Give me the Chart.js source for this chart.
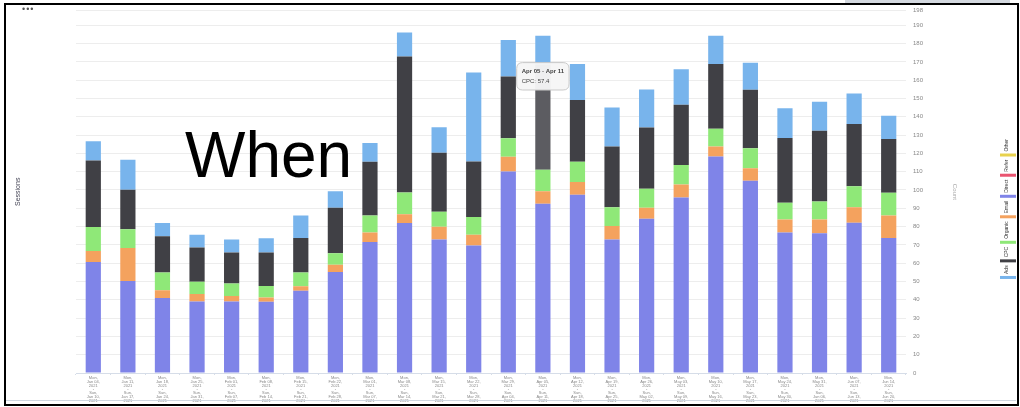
<!DOCTYPE html>
<html>
<head>
<meta charset="utf-8">
<script src="https://cdn.jsdelivr.net/npm/chart.js@4/dist/chart.umd.min.js"></script>
<style>
  html, body { margin: 0; padding: 0; background: #fff; }
  body { width: 1020px; height: 407px; position: relative; overflow: hidden; font-family: 'Liberation Sans', Arial, sans-serif; }
  #chart { position: absolute; left: 0; top: 0; }
  .frame { position: absolute; left: 4px; top: 3px; width: 1011px; height: 399px; border: 2px solid #000; pointer-events: none; }
  .topbar { position: absolute; left: 845px; top: 0; width: 165px; height: 3px; background: #d3d8df; }
  .baseline { position: absolute; left: 6px; top: 400px; width: 1010px; height: 1px; background: #cfd6e0; }
  .dots { position: absolute; left: 22px; top: 4px; font-size: 9px; color: #555; letter-spacing: 1px; }
  .overlay { position: absolute; left: 185px; top: 123px; font-size: 64px; line-height: 1; color: #000; font-family: 'Liberation Sans', Arial, sans-serif; }
</style>
</head>
<body>
<canvas id="chart" width="1020" height="407"></canvas>
<div class="topbar"></div>
<div class="baseline"></div>
<div class="frame"></div>
<div class="dots">&#8226;&#8226;&#8226;</div>
<div class="overlay">When</div>
<script>
// week ranges (start / end)
const weekStart = ['Jan 04', 'Jan 11', 'Jan 18', 'Jan 25', 'Feb 01', 'Feb 08', 'Feb 15', 'Feb 22',
  'Mar 01', 'Mar 08', 'Mar 15', 'Mar 22', 'Mar 29', 'Apr 05', 'Apr 12', 'Apr 19',
  'Apr 26', 'May 03', 'May 10', 'May 17', 'May 24', 'May 31', 'Jun 07', 'Jun 14'];
const weekEnd = ['Jan 10', 'Jan 17', 'Jan 24', 'Jan 31', 'Feb 07', 'Feb 14', 'Feb 21', 'Feb 28',
  'Mar 07', 'Mar 14', 'Mar 21', 'Mar 28', 'Apr 04', 'Apr 11', 'Apr 18', 'Apr 25',
  'May 02', 'May 09', 'May 16', 'May 23', 'May 30', 'Jun 06', 'Jun 13', 'Jun 20'];

const other = [0, 0, 0, 0, 0, 0, 0, 0, 0, 0, 0, 0, 0, 0, 0, 0, 0, 0, 0, 0, 0, 0, 0, 0];
const referral = [0, 0, 0, 0, 0, 0, 0, 0, 0, 0, 0, 0, 0, 0, 0, 0, 0, 0, 0, 0, 0, 0, 0, 0];
const direct = [60.7, 50.3, 41.0, 39.1, 39.1, 38.9, 44.9, 55.2, 71.6, 81.9, 72.9, 69.6,
  110.1, 92.5, 97.4, 73.0, 84.3, 95.9, 118.3, 105.0, 76.7, 76.3, 82.1, 73.7];
const email = [5.9, 18.0, 4.2, 4.0, 3.0, 2.4, 2.5, 4.0, 5.1, 4.9, 7.0, 6.0,
  8.0, 6.8, 6.9, 7.3, 6.0, 7.1, 5.4, 6.9, 7.2, 7.6, 8.5, 12.4];
const organic = [13.1, 10.2, 9.7, 6.7, 6.8, 6.3, 7.5, 6.2, 9.4, 11.8, 8.2, 9.6,
  10.1, 11.7, 11.1, 10.2, 10.4, 10.7, 9.7, 10.9, 9.1, 9.8, 11.5, 12.4];
const cpc = [36.4, 21.6, 19.8, 18.7, 17.0, 18.3, 18.8, 24.9, 29.3, 74.3, 32.2, 30.3,
  33.8, 57.4, 33.8, 33.2, 33.4, 32.9, 35.4, 32.0, 35.4, 38.6, 34.0, 29.4];
const ads = [10.5, 16.4, 7.2, 7.1, 7.1, 7.7, 12.4, 9.0, 10.3, 13.1, 13.9, 48.7,
  19.9, 15.8, 19.6, 21.4, 20.8, 19.4, 15.4, 14.7, 16.2, 15.9, 16.6, 12.7];

const labels = weekStart.map((s, i) => s + ' - ' + weekEnd[i]);

function ds(label, data, color, hover) {
  return {
    label,
    data,
    yAxisID: 'y',
    backgroundColor: color,
    hoverBackgroundColor: hover || color,
    borderWidth: 0,
    barPercentage: 0.55,
    categoryPercentage: 0.8,
  };
}

// rotated legend on the far right
const sideLegend = {
  id: 'sideLegend',
  afterDraw(chart) {
    const ctx = chart.ctx;
    let y = 139;
    ctx.save();
    ctx.font = '5px "Liberation Sans", Arial, sans-serif';
    chart.data.datasets.forEach((d) => {
      const w = ctx.measureText(d.label).width;
      ctx.save();
      ctx.translate(1007, y + w);
      ctx.rotate(-Math.PI / 2);
      ctx.fillStyle = '#333';
      ctx.textBaseline = 'middle';
      ctx.textAlign = 'left';
      ctx.fillText(d.label, 0, 0);
      ctx.restore();
      ctx.fillStyle = d.backgroundColor;
      ctx.fillRect(1000, y + w + 2, 16, 3);
      y += w + 8;
    });
    ctx.restore();
  },
};

Chart.Tooltip.positioners.pinned = function (elements) {
  if (!elements.length) return false;
  return { x: elements[0].element.x, y: this.chart.chartArea.top + 50 };
};

const ctx = document.getElementById('chart').getContext('2d');
const chart = new Chart(ctx, {
  type: 'bar',
  data: {
    labels,
    datasets: [
      ds('Other', other, '#e8d24e'),
      ds('Refer', referral, '#ea5470'),
      ds('Direct', direct, '#7f84e8'),
      ds('Email', email, '#f4a25e'),
      ds('Organic', organic, '#8fe878'),
      ds('CPC', cpc, '#404045', '#5c5c61'),
      ds('Ads', ads, '#78b4ec'),
    ],
  },
  options: {
    responsive: false,
    animation: false,
    devicePixelRatio: 1,
    layout: { padding: { left: 10, right: 58, top: 10, bottom: 0 } },
    plugins: {
      legend: { display: false },
      tooltip: {
        position: 'pinned',
        xAlign: 'center',
        yAlign: 'top',
        caretSize: 0,
        backgroundColor: 'rgba(246,246,246,0.96)',
        borderColor: '#c9c9c9',
        borderWidth: 1,
        titleColor: '#444',
        bodyColor: '#444',
        titleFont: { size: 6 },
        bodyFont: { size: 6 },
        titleMarginBottom: 3,
        padding: 5,
        displayColors: false,
      },
    },
    scales: {
      x: {
        stacked: true,
        grid: { drawOnChartArea: false, tickLength: 2, color: '#d6dde8' },
        border: { color: '#d6dde8' },
        ticks: {
          autoSkip: false,
          maxRotation: 0,
          padding: 1,
          color: '#888',
          font: { size: 4, lineHeight: 0.95 },
          callback: (v, i) => ['Mon,', weekStart[i] + ',', '2021', '-', 'Sun,', weekEnd[i] + ',', '2021'],
        },
        afterFit(scale) { scale.height = 34; },
      },
      yl: {
        position: 'left',
        min: 0,
        max: 198,
        grid: { display: false },
        border: { display: false },
        ticks: { display: false },
        title: { display: true, text: 'Sessions', color: '#445', font: { size: 7 } },
        afterFit(scale) { scale.width = 66; },
      },
      y: {
        position: 'right',
        stacked: true,
        min: 0,
        max: 198,
        grid: { color: '#ededed', drawTicks: false },
        border: { display: false },
        ticks: { stepSize: 10, padding: 7, color: '#888', font: { size: 6 } },
        title: { display: true, text: 'Count', color: '#aaa', font: { size: 6 } },
        afterFit(scale) { scale.width = 56; },
      },
    },
  },
  plugins: [sideLegend],
});

chart.setActiveElements([{ datasetIndex: 5, index: 13 }]);
chart.tooltip.setActiveElements([{ datasetIndex: 5, index: 13 }], { x: 0, y: 0 });
chart.update();
</script>
</body>
</html>
